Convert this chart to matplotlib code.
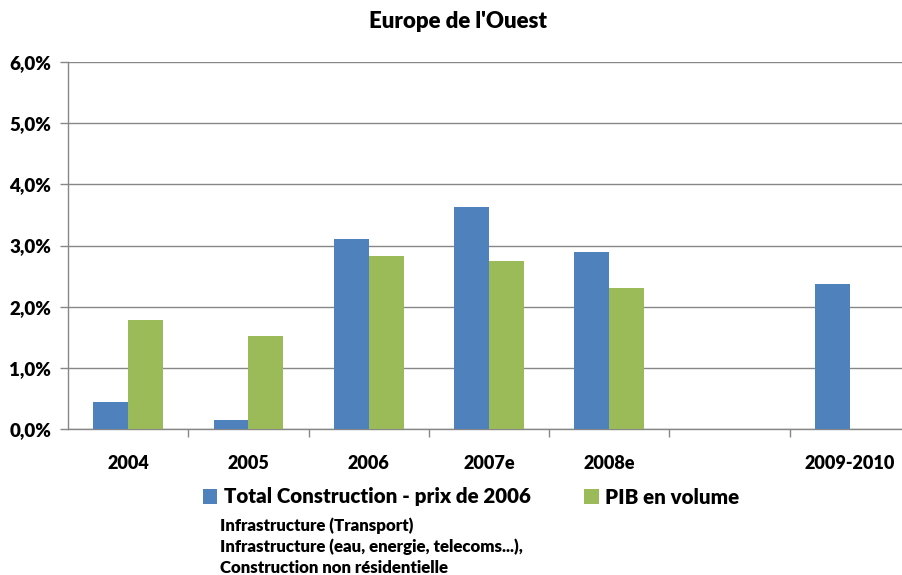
import numpy as np
import matplotlib
matplotlib.use("Agg")
import matplotlib.pyplot as plt
from matplotlib.patches import Patch
from matplotlib.ticker import FixedLocator, FuncFormatter

categories = ["2004", "2005", "2006", "2007e", "2008e", "", "2009-2010"]
total_construction = [0.44, 0.15, 3.10, 3.63, 2.89, np.nan, 2.37]
pib_volume = [1.78, 1.52, 2.83, 2.75, 2.30, np.nan, np.nan]
series_names = ["Total Construction - prix de 2006", "PIB en volume"]
extra_entries = ["Infrastructure (Transport)",
                 "Infrastructure (eau, energie, telecoms...),",
                 "Construction non résidentielle"]
title = "Europe de l'Ouest"

BLUE = "#4F81BD"
GREEN = "#9BBB59"
GRID = "#878787"
WEIGHT = 'heavy'

plt.rcParams['font.family'] = ['Lato', 'DejaVu Sans']
plt.rcParams['font.weight'] = WEIGHT

fig = plt.figure(figsize=(9.02, 5.75), dpi=100)
W, H = 902, 575
left, right, top, bottom = 68, 910, 62, 429
ax = fig.add_axes([left / W, 1 - bottom / H, (right - left) / W, (bottom - top) / H])

x = np.arange(len(categories))
bw = 0.29
ax.bar(x - bw / 2, total_construction, width=bw, color=BLUE, zorder=3)
ax.bar(x + bw / 2, pib_volume, width=bw, color=GREEN, zorder=3)

ax.set_xlim(-0.5, len(categories) - 0.5)
ax.set_ylim(0, 6)
ax.set_yticks(np.arange(0, 7, 1))
ax.yaxis.set_major_formatter(FuncFormatter(lambda v, p: f"{v:.1f}%".replace(".", ",")))
ax.yaxis.grid(True, color=GRID, linewidth=1.0, zorder=0)
ax.set_axisbelow(True)

ax.set_xticks(x)
ax.set_xticklabels(categories)
ax.xaxis.set_minor_locator(FixedLocator(np.arange(0.5, len(categories) - 0.5, 1)))
ax.tick_params(axis='x', which='major', length=0, pad=19, labelsize=13)
ax.tick_params(axis='x', which='minor', length=6, color=GRID, width=1)
ax.tick_params(axis='y', which='major', length=6, color=GRID, width=1, labelsize=13.5, pad=6)

for s in ['top', 'right']:
    ax.spines[s].set_visible(False)
for s in ['left', 'bottom']:
    ax.spines[s].set_color(GRID)
    ax.spines[s].set_linewidth(1.0)

fig.text(458 / W, 1 - 22 / H, title, ha='center', va='center', fontsize=16, fontweight=WEIGHT)

handles = [Patch(facecolor=BLUE, edgecolor='none'), Patch(facecolor=GREEN, edgecolor='none')]
leg = fig.legend(handles, series_names, loc='center left', bbox_to_anchor=(203 / W, 1 - 497 / H),
                 ncol=2, frameon=False, fontsize=14.8, handlelength=0.7, handleheight=0.7,
                 handletextpad=0.3, columnspacing=2.62, borderpad=0, borderaxespad=0)

for i, t in enumerate(extra_entries):
    fig.text(220 / W, 1 - (526 + i * 21) / H, t, ha='left', va='center', fontsize=12.2, fontweight=WEIGHT)

fig.savefig("out.png", dpi=100)
